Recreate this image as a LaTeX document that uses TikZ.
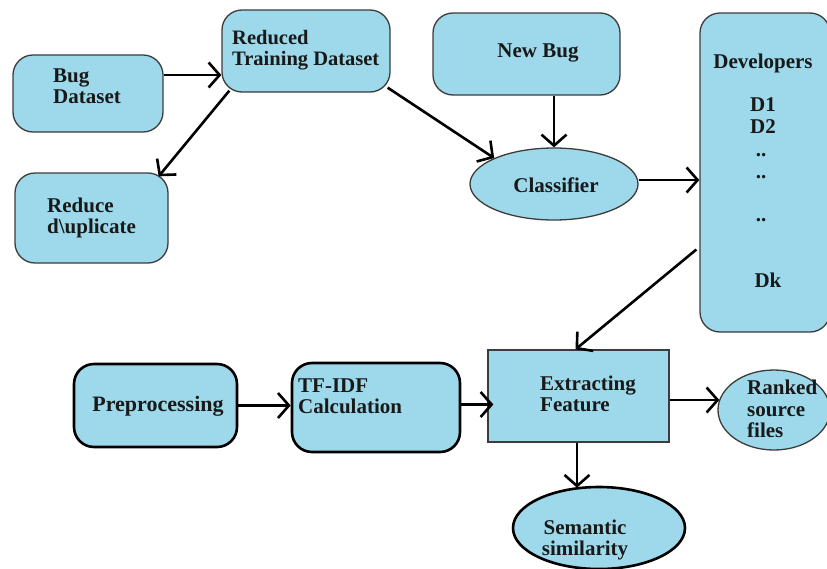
\documentclass[tikz,border=0pt]{standalone}
\usepackage{fontspec}
\setmainfont{Liberation Serif}
\usetikzlibrary{arrows.meta,shapes.geometric}
\definecolor{boxblue}{RGB}{157,217,234}
\definecolor{edgegray}{RGB}{60,60,60}
\tikzset{
  rbox/.style={draw=edgegray,line width=1.3pt,fill=boxblue,rounded corners=20pt,inner sep=0pt},
  tbox/.style={draw=black,line width=2.6pt,fill=boxblue,rounded corners=20pt,inner sep=0pt},
  sbox/.style={draw=edgegray,line width=1.3pt,fill=boxblue,inner sep=0pt},
  ebox/.style={ellipse,draw=edgegray,line width=1.3pt,fill=boxblue,inner sep=0pt},
  tebox/.style={ellipse,draw=black,line width=2.6pt,fill=boxblue,inner sep=0pt},
  lbl/.style={font=\fontsize{21}{21.5}\selectfont\bfseries,inner sep=0pt,text=black!90},
  conn/.style={draw=black,line width=2.6pt,-{Straight Barb[length=11pt,width=25pt,line width=2.6pt]}},
}
\begin{document}
\begin{tikzpicture}[x=1pt,y=-1pt]
\useasboundingbox (0,0) rectangle (827,568);
\fill[white] (0,0) rectangle (827,568);
% shapes
\node[rbox,minimum width=150pt,minimum height=77pt] (bug) at (88,93.5) {};
\node[rbox,minimum width=168pt,minimum height=82pt] (rtd) at (306,51) {};
\node[rbox,minimum width=153pt,minimum height=90pt] (rdup) at (91.5,218) {};
\node[rbox,minimum width=187pt,minimum height=82pt] (nb) at (526.5,54) {};
\node[ebox,minimum width=168pt,minimum height=72pt] (cls) at (554,184) {};
\node[rbox,minimum width=130pt,minimum height=319pt] (dev) at (765,172.5) {};
\node[tbox,minimum width=163pt,minimum height=83pt] (pre) at (155.5,405.5) {};
\node[tbox,minimum width=168pt,minimum height=89pt] (tfidf) at (376,407.5) {};
\node[sbox,minimum width=181pt,minimum height=92pt] (ext) at (578.5,396) {};
\node[ebox,minimum width=112pt,minimum height=80pt] (rk) at (774,410) {};
\node[tebox,minimum width=172pt,minimum height=82pt] (sem) at (599,528) {};
% labels
\node[lbl,anchor=west,align=left] (tbug) at (53,86) {Bug\\Dataset};
\node[lbl,anchor=west,align=left,font=\fontsize{20.5}{21.5}\selectfont\bfseries] (trtd) at (232,50) {Reduced\\Training Dataset};
\node[lbl,anchor=west,align=left] (trdup) at (47,218) {Reduce\\d\textbackslash uplicate};
\node[lbl] (tnb) at (538,53) {New Bug};
\node[lbl] (tcls) at (556,185) {Classifier};
\node[lbl] (tdev) at (763,63) {Developers};
\node[lbl] (td1) at (763,105) {D1};
\node[lbl] (td2) at (763,127) {D2};
\node[lbl] (tdot1) at (761,155) {..};
\node[lbl] (tdot2) at (761,177) {..};
\node[lbl] (tdot3) at (761,220) {..};
\node[lbl] (tdk) at (768,280) {Dk};
\node[lbl,font=\fontsize{22}{22}\selectfont\bfseries] (tpre) at (158,406) {Preprocessing};
\node[lbl,anchor=west,align=left] (ttf) at (298,396) {TF-IDF\\Calculation};
\node[lbl,anchor=west,align=left] (text) at (540,394) {Extracting\\Feature};
\node[lbl,anchor=west,align=left] (trk) at (747,409) {Ranked\\source\\files};
\node[lbl,align=center] (tsem) at (585,540) {Semantic\\similarity};
% connectors
\draw[conn] ([yshift=18.5pt]bug.east) -- ([yshift=-24pt]rtd.west);
\draw[conn] ([xshift=8pt,yshift=2pt]rtd.south west) -- ([xshift=-10pt,yshift=-4pt]rdup.north east);
\draw[conn] ([xshift=-3pt,yshift=5pt]rtd.south east) -- (cls.north west);
\draw[conn] (cls.north |- nb.south) -- (cls.north);
\draw[conn] ([yshift=4pt]cls.east) -- ([yshift=4pt]cls.east -| dev.west);
\draw[conn] ([xshift=-3pt,yshift=-77pt]dev.west) -- ([xshift=-3pt]ext.north);
\draw[conn] (pre.east) -- (tfidf.west |- pre.east);
\draw[conn] ([yshift=3pt]tfidf.east) -- ([xshift=6pt,yshift=3pt]tfidf.east -| ext.west);
\draw[conn] ([yshift=-4pt]ext.east) -- ([xshift=2pt,yshift=-4pt]ext.east -| rk.west);
\draw[conn] ([xshift=-1.5pt]ext.south) -- ([xshift=-1.5pt,yshift=-2pt]ext.south |- sem.north);
\end{tikzpicture}
\end{document}
